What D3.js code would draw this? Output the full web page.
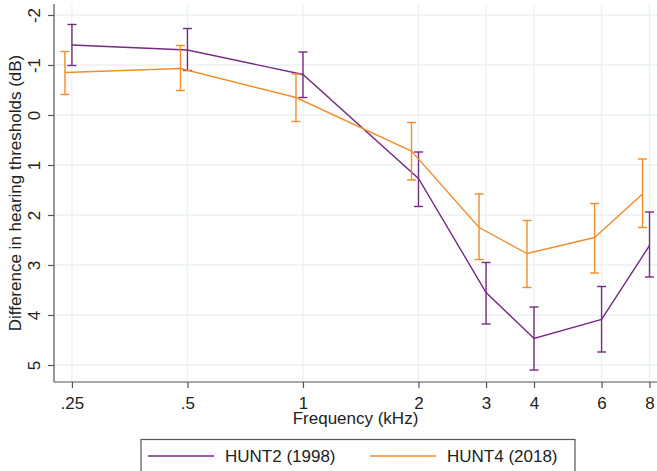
<!DOCTYPE html>
<html>
<head>
<meta charset="utf-8">
<script src="https://cdn.jsdelivr.net/npm/d3@7"></script>
<style>
  body { margin: 0; background: #fff; }
  svg { display: block; font-family: "Liberation Sans", Arial, sans-serif; }
  .grid line { stroke: #eaf1f3; stroke-width: 1.3; }
  .axis path, .axis line { stroke: #555; stroke-width: 1.2; }
  .axis text { font-size: 17px; fill: #222; }
</style>
</head>
<body>
<div id="chart"></div>
<script>
// Data_______________________________________________________
const freqs = [0.25, 0.5, 1, 2, 3, 4, 6, 8];
const freqLabels = ['.25', '.5', '1', '2', '3', '4', '6', '8'];
const yTicks = [-2, -1, 0, 1, 2, 3, 4, 5];

const hunt2Mean = [-1.40, -1.30, -0.81, 1.27, 3.55, 4.47, 4.09, 2.61];
const hunt2Lo   = [-1.81, -1.73, -1.26, 0.74, 2.95, 3.84, 3.43, 1.94];
const hunt2Hi   = [-0.99, -0.89, -0.35, 1.83, 4.18, 5.10, 4.74, 3.24];

const hunt4Mean = [-0.85, -0.93, -0.35, 0.72, 2.25, 2.77, 2.45, 1.58];
const hunt4Lo   = [-1.27, -1.39, -0.82, 0.15, 1.58, 2.11, 1.77, 0.88];
const hunt4Hi   = [-0.41, -0.49, 0.13, 1.30, 2.89, 3.45, 3.16, 2.25];

const seriesNames = ['HUNT2 (1998)', 'HUNT4 (2018)'];

// Layout_______________________________________________________
const width = 657;
const height = 471;
const plot = { left: 54, right: 657, top: 4, bottom: 382 };
const colors = ['#762a83', '#f48c2c'];
const dodge = [0, -7];   // HUNT4 drawn slightly left of the tick
const capWidth = 9;

const series = [
  { name: seriesNames[0], mean: hunt2Mean, lo: hunt2Lo, hi: hunt2Hi },
  { name: seriesNames[1], mean: hunt4Mean, lo: hunt4Lo, hi: hunt4Hi }
];

const x = d3.scaleLog().domain([0.2245, 8.367]).range([plot.left, plot.right]);
const y = d3.scaleLinear().domain([-2.22, 5.34]).range([plot.top, plot.bottom]);

const svg = d3.select('#chart')
  .append('svg')
  .attr('width', width)
  .attr('height', height);

// Grid_________________________________________________________
const grid = svg.append('g').attr('class', 'grid');
grid.selectAll('.hg')
  .data(yTicks)
  .enter()
  .append('line')
  .attr('x1', plot.left).attr('x2', plot.right)
  .attr('y1', d => y(d)).attr('y2', d => y(d));
grid.selectAll('.vg')
  .data(freqs)
  .enter()
  .append('line')
  .attr('y1', plot.top).attr('y2', plot.bottom)
  .attr('x1', d => x(d)).attr('x2', d => x(d));

// Axes_________________________________________________________
const yAxis = svg.append('g')
  .attr('class', 'axis')
  .attr('transform', `translate(${plot.left},0)`)
  .call(d3.axisLeft(y).tickValues(yTicks).tickSize(6).tickSizeOuter(0).tickFormat(d => String(d)));
yAxis.selectAll('text')
  .attr('x', null).attr('dy', null)
  .attr('text-anchor', 'middle')
  .attr('transform', 'translate(-14,0) rotate(-90)');

const xAxis = svg.append('g')
  .attr('class', 'axis')
  .attr('transform', `translate(0,${plot.bottom})`)
  .call(d3.axisBottom(x).tickValues(freqs).tickSize(6).tickSizeOuter(0)
    .tickFormat((d, i) => freqLabels[i]));
xAxis.selectAll('text').attr('y', 27).attr('dy', null);
xAxis.select('.domain').attr('d', `M${plot.left},0H${plot.right}`);
yAxis.select('.domain').attr('d', `M0,${plot.top}V${plot.bottom}`);

svg.append('text')
  .attr('x', (plot.left + plot.right) / 2)
  .attr('y', 424)
  .attr('text-anchor', 'middle')
  .style('font-size', '17px')
  .style('fill', '#222')
  .text('Frequency (kHz)');

svg.append('text')
  .attr('transform', `translate(20.5,${(plot.top + plot.bottom) / 2}) rotate(-90)`)
  .attr('text-anchor', 'middle')
  .style('font-size', '17px')
  .style('fill', '#222')
  .text('Difference in hearing thresholds (dB)');

// Series_______________________________________________________
series.forEach((s, k) => {
  const g = svg.append('g');
  const px = i => x(freqs[i]) + dodge[k];

  g.append('path')
    .datum(s.mean)
    .attr('fill', 'none')
    .attr('stroke', colors[k])
    .attr('stroke-width', 1.4)
    .attr('d', d3.line().x((d, i) => px(i)).y(d => y(d)));

  const bars = g.selectAll('.bar')
    .data(freqs)
    .enter()
    .append('g');
  bars.append('line')
    .attr('x1', (d, i) => px(i)).attr('x2', (d, i) => px(i))
    .attr('y1', (d, i) => y(s.lo[i])).attr('y2', (d, i) => y(s.hi[i]))
    .attr('stroke', colors[k]).attr('stroke-width', 1.4);
  bars.append('line')
    .attr('x1', (d, i) => px(i) - capWidth / 2).attr('x2', (d, i) => px(i) + capWidth / 2)
    .attr('y1', (d, i) => y(s.lo[i])).attr('y2', (d, i) => y(s.lo[i]))
    .attr('stroke', colors[k]).attr('stroke-width', 1.4);
  bars.append('line')
    .attr('x1', (d, i) => px(i) - capWidth / 2).attr('x2', (d, i) => px(i) + capWidth / 2)
    .attr('y1', (d, i) => y(s.hi[i])).attr('y2', (d, i) => y(s.hi[i]))
    .attr('stroke', colors[k]).attr('stroke-width', 1.4);
});

// Legend_______________________________________________________
const legend = svg.append('g');
legend.append('rect')
  .attr('x', 141).attr('y', 439.5)
  .attr('width', 434).attr('height', 40)
  .attr('fill', '#fff')
  .attr('stroke', '#555')
  .attr('stroke-width', 1.2);

const legendItem = legend.selectAll('.legend-item')
  .data(series)
  .enter()
  .append('g')
  .attr('transform', (d, i) => `translate(${148 + i * 222},456)`);
legendItem.append('line')
  .attr('x1', 0).attr('x2', 66)
  .attr('stroke', (d, i) => colors[i])
  .attr('stroke-width', 1.4);
legendItem.append('text')
  .attr('x', 77).attr('y', 6)
  .style('font-size', '17px')
  .style('fill', '#222')
  .text(d => d.name);
</script>
</body>
</html>
